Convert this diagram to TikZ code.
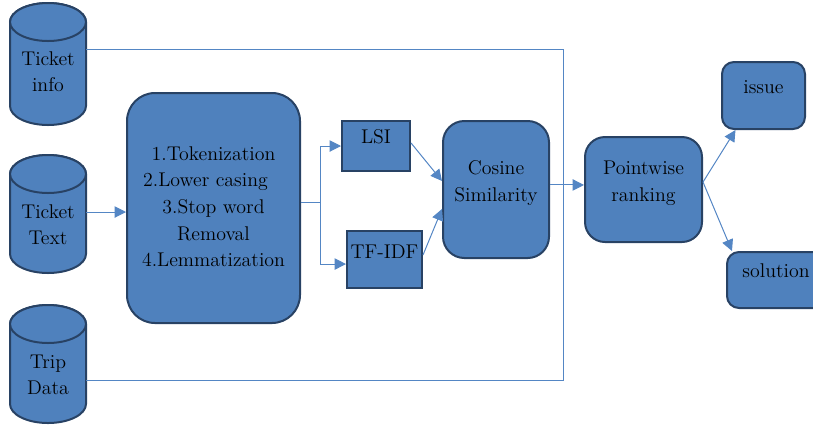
\documentclass[tikz,border=0pt]{standalone}
\usetikzlibrary{arrows.meta}

\definecolor{boxfill}{RGB}{79,129,189}
\definecolor{boxline}{RGB}{40,66,100}
\definecolor{wire}{RGB}{84,134,196}

% centred lines of text, optionally lifted inside their node
\newcommand\stack[2][0pt]{\raisebox{#1}[\height][\depth]{\begin{tabular}{@{}c@{}}#2\end{tabular}}}

% database drum: centre x, top-ellipse centre y, bottom-ellipse centre y
\newcommand\dbdrum[3]{%
  \filldraw[drum] ({#1-38},#2) -- ({#1-38},#3)
    arc[start angle=180,end angle=360,x radius=28.5pt,y radius=14.25pt]
    -- ({#1+38},#2)
    arc[start angle=0,end angle=180,x radius=28.5pt,y radius=14.25pt] -- cycle;
  \draw[drum] (#1,#2) ellipse[x radius=28.5pt,y radius=14.25pt];}

\tikzset{
  drum/.style={fill=boxfill,draw=boxline,line width=1.5pt},
  drumtext/.style={inner sep=0pt,minimum width=57pt,text=black},
  block/.style={fill=boxfill,draw=boxline,line width=1.5pt,inner sep=0pt,text=black},
  wirepath/.style={draw=wire,line width=0.75pt},
  arrowpath/.style={wirepath,-{Triangle[length=8.5pt,width=8.5pt]}},
}

\begin{document}
\begin{tikzpicture}[x=0.75pt,y=-0.75pt,
  every node/.style={font=\rmfamily\fontsize{14.9pt}{20pt}\selectfont}]
\clip (0,0) rectangle (813,430);

% data sources
\dbdrum{48}{22}{106}
\dbdrum{48}{174}{254}
\dbdrum{48}{324}{404}
\node[drumtext] (tinfo) at (48,73)  {\stack{Ticket\\info}};
\node[drumtext] (ttext) at (48,226) {\stack{Ticket\\Text}};
\node[drumtext] (trip)  at (48,376) {\stack{Trip\\Data}};

% processing blocks
\node[block,rounded corners=21pt,minimum width=129.75pt,minimum height=172.5pt] (prep) at (213.5,208)
  {\stack{1.Tokenization\\2.Lower casing\kern12pt\\3.Stop word\\Removal\\4.Lemmatization}};
\node[block,minimum width=51pt,minimum height=37.5pt] (lsi) at (376,146) {\stack[6pt]{LSI}};
\node[block,minimum width=56.25pt,minimum height=42.75pt] (tfidf) at (384.5,259.5) {\stack[5pt]{TF-IDF}};
\node[block,rounded corners=16pt,minimum width=79.5pt,minimum height=102.75pt] (cos) at (496,189.5)
  {\stack[5pt]{Cosine\\Similarity}};
\node[block,rounded corners=15pt,minimum width=87.75pt,minimum height=78.75pt] (rank) at (643.5,189.5)
  {\stack[5pt]{Pointwise\\ranking}};
\node[block,rounded corners=9pt,minimum width=62.25pt,minimum height=50.25pt] (issue) at (763.5,95.5)
  {\stack[5.8pt]{issue}};
\node[block,rounded corners=9pt,minimum width=73.5pt,minimum height=42pt] (sol) at (776,280)
  {\stack[5.6pt]{solution}};

% side bus joining ticket info and trip data
\coordinate (busTop) at (563,49);
\coordinate (busBot) at (563,380);
\draw[wirepath] (tinfo.east |- busTop) -- (busTop) -- (busBot) -- (trip.east |- busBot);

% main flow
\coordinate (inRow) at (0,212);
\draw[arrowpath] (ttext.east |- inRow) -- (prep.west |- inRow);
\coordinate (split) at (320,202);
\draw[wirepath] (prep.east |- split) -- (split);
\draw[arrowpath] (split) |- (lsi.west);
\draw[arrowpath] (split) |- ([yshift=-3.4pt]tfidf.west);
\draw[arrowpath] ([yshift=2.3pt]lsi.east) -- ([yshift=6.4pt]cos.west);
\draw[arrowpath] ([yshift=3.4pt]tfidf.east) -- ([yshift=-14.6pt]cos.west);
\draw[arrowpath] ([yshift=3.4pt]cos.east) -- ([yshift=3.4pt]rank.west);
\draw[arrowpath] ([yshift=5.6pt]rank.east) -- ([xshift=-21pt]issue.south);
\draw[arrowpath] ([yshift=5.6pt]rank.east) -- ([xshift=4.5pt]sol.north west);
\end{tikzpicture}
\end{document}
